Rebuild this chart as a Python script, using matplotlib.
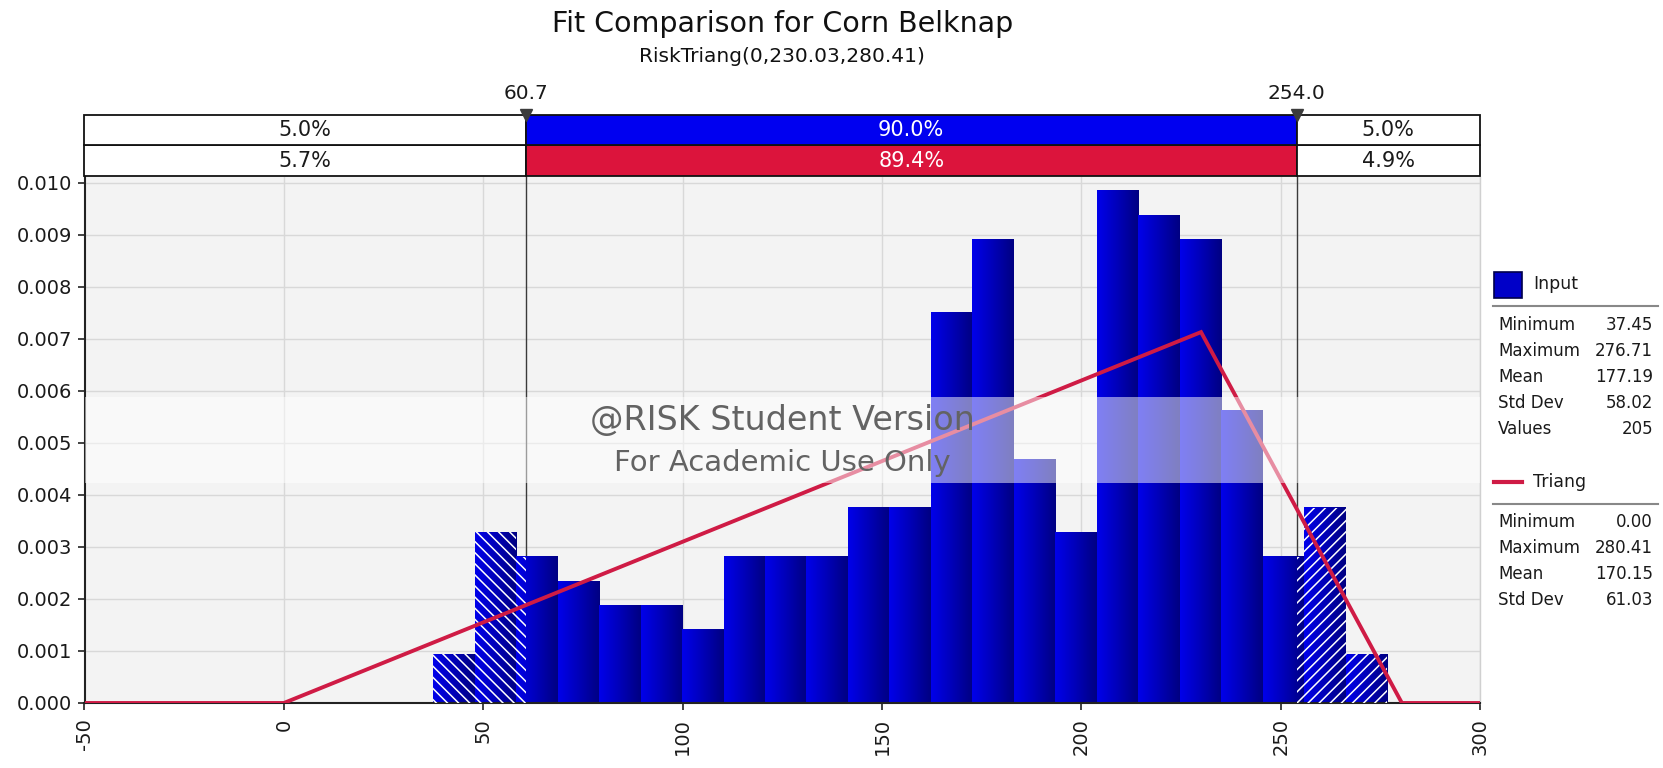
import numpy as np
import matplotlib
matplotlib.use("Agg")
import matplotlib.pyplot as plt
from matplotlib.colors import LinearSegmentedColormap
from matplotlib.patches import Rectangle
from matplotlib.lines import Line2D

# ---------------- data ----------------
title = "Fit Comparison for Corn Belknap"
subtitle = "RiskTriang(0,230.03,280.41)"

bin_start = 37.45
bin_end = 276.71
n_bins = 23
densities = [0.00094, 0.00328, 0.00281, 0.00234, 0.00188, 0.00188, 0.00141,
             0.00281, 0.00281, 0.00281, 0.00375, 0.00375, 0.00750, 0.00891,
             0.00469, 0.00328, 0.00985, 0.00938, 0.00891, 0.00563, 0.00281,
             0.00375, 0.00094]

tri_min, tri_mode, tri_max = 0.0, 230.03, 280.41

markers = [60.7, 254.0]
marker_labels = ["60.7", "254.0"]
input_pcts = ["5.0%", "90.0%", "5.0%"]
fit_pcts = ["5.7%", "89.4%", "4.9%"]

x_min, x_max = -50, 300
x_ticks = [-50, 0, 50, 100, 150, 200, 250, 300]
y_ticks = [0.000, 0.001, 0.002, 0.003, 0.004, 0.005, 0.006, 0.007, 0.008, 0.009, 0.010]

input_stat_names = ["Minimum", "Maximum", "Mean", "Std Dev", "Values"]
input_stat_values = ["37.45", "276.71", "177.19", "58.02", "205"]
fit_stat_names = ["Minimum", "Maximum", "Mean", "Std Dev"]
fit_stat_values = ["0.00", "280.41", "170.15", "61.03"]

watermark1 = "@RISK Student Version"
watermark2 = "For Academic Use Only"

# ---------------- style ----------------
W, H = 1663, 768
plt.rcParams['font.family'] = ['DejaVu Sans']
plt.rcParams['hatch.color'] = 'white'
plt.rcParams['hatch.linewidth'] = 1.1

BLUE = '#0000f0'
RED = '#dc143c'
LINE_RED = '#cf1b45'
TXT = '#1a1a1a'

def fx(px):
    return px / W

def fy(py):
    return 1 - py / H

fig = plt.figure(figsize=(W / 100, H / 100), dpi=100)

ax_left, ax_right = 84.5, 1480.0
ax_top, ax_bot = 177.0, 703.0
ax = fig.add_axes([fx(ax_left), fy(ax_bot), fx(ax_right - ax_left), (ax_bot - ax_top) / H])
ax.set_facecolor('#f3f3f3')

edges = np.linspace(bin_start, bin_end, n_bins + 1)
widths = np.diff(edges)
dens = np.array(densities)

# gradient bars
cmap = LinearSegmentedColormap.from_list('bars', ['#0000ea', '#0000b8', '#000082'])
grad = np.linspace(0, 1, 64).reshape(1, -1)
bars = ax.bar(edges[:-1], dens, width=widths, align='edge', color='none',
              edgecolor='none', zorder=2)
for p in bars:
    x0, w, h = p.get_x(), p.get_width(), p.get_height()
    ax.imshow(grad, cmap=cmap, extent=(x0, x0 + w, 0, h), aspect='auto',
              interpolation='bilinear', zorder=2)

# hatched tails
lw_ = np.minimum(edges[1:], markers[0]) - edges[:-1]
m = lw_ > 0
ax.bar(edges[:-1][m], dens[m], width=lw_[m], align='edge', facecolor='none',
       edgecolor='white', hatch='\\\\\\', linewidth=0, zorder=3)
rs = np.maximum(edges[:-1], markers[1])
rw = edges[1:] - rs
m = rw > 0
ax.bar(rs[m], dens[m], width=rw[m], align='edge', facecolor='none',
       edgecolor='white', hatch='///', linewidth=0, zorder=3)

# marker lines
for mk in markers:
    ax.axvline(mk, color='#3a3a3a', lw=1.0, zorder=1.8)

# triangular pdf
peak = 2.0 / (tri_max - tri_min)
tri_x = [x_min, tri_min, tri_mode, tri_max, x_max]
tri_y = [0, 0, peak, 0, 0]
ax.plot(tri_x, tri_y, color=LINE_RED, lw=2.8, zorder=4, solid_joinstyle='miter')

# watermark band
ax.axhspan(0.00423, 0.00588, color='white', alpha=0.5, lw=0, zorder=5)
xc = (x_min + x_max) / 2
ax.text(xc, 0.00544, watermark1, ha='center', va='center', fontsize=24,
        color='#636363', zorder=6)
ax.text(xc, 0.00462, watermark2, ha='center', va='center', fontsize=21,
        color='#636363', zorder=6)

ax.set_xlim(x_min, x_max)
ax.set_ylim(0, 0.010115)
ax.set_xticks(x_ticks)
ax.set_xticklabels([str(t) for t in x_ticks], rotation=90, fontsize=14, color=TXT)
ax.set_yticks(y_ticks)
ax.set_yticklabels(["%.3f" % t for t in y_ticks], fontsize=14, color=TXT)
ax.tick_params(axis='both', length=5, width=1.2, color='#222222')
ax.tick_params(axis='x', pad=6)
ax.tick_params(axis='y', pad=4)
ax.grid(True, color='#d8d8d8', lw=1.0, zorder=0)
ax.set_axisbelow(True)
for s in ['left', 'bottom']:
    ax.spines[s].set_color('#222222')
    ax.spines[s].set_linewidth(1.5)
ax.spines['right'].set_color('#d0d0d0')
ax.spines['right'].set_linewidth(1.0)
ax.spines['top'].set_visible(False)

# ---------------- percentage boxes ----------------
bx_top, bx_bot = 114.5, 176.0
axb = fig.add_axes([fx(ax_left), fy(bx_bot), fx(ax_right - ax_left), (bx_bot - bx_top) / H])
axb.set_xlim(x_min, x_max)
axb.set_ylim(0, 2)
axb.axis('off')
seg_edges = [x_min] + markers + [x_max]
for row, (pcts, mid_color) in enumerate([(fit_pcts, RED), (input_pcts, BLUE)]):
    for i in range(3):
        left, right = seg_edges[i], seg_edges[i + 1]
        fc = mid_color if i == 1 else 'white'
        axb.barh(row + 0.5, right - left, left=left, height=1, color=fc,
                 edgecolor='#111111', linewidth=1.3, clip_on=False)
        axb.text((left + right) / 2, row + 0.5, pcts[i], ha='center', va='center',
                 fontsize=15, color='white' if i == 1 else TXT)
for mk, lab in zip(markers, marker_labels):
    axb.plot([mk], [2], marker='v', markersize=9, color='#3c3c3c', clip_on=False, zorder=5)
    axb.annotate(lab, xy=(mk, 2), xytext=(0, 15), textcoords='offset points',
                 ha='center', va='center', fontsize=14.5, color=TXT,
                 annotation_clip=False)

# ---------------- titles ----------------
xcen = fx((ax_left + ax_right) / 2)
fig.text(xcen, fy(24), title, ha='center', va='center', fontsize=20.5, color='#111111')
fig.text(xcen, fy(56), subtitle, ha='center', va='center', fontsize=14.5, color='#111111')

# ---------------- legend panel ----------------
lab_x, val_x = 1498, 1653
sep_x0, sep_x1 = 1493, 1658
fig.patches.append(Rectangle((fx(1494), fy(298)), fx(28), 26 / H, transform=fig.transFigure,
                             facecolor='#0000c8', edgecolor='#00004a', lw=1.2))
fig.text(fx(1533), fy(284), "Input", ha='left', va='center', fontsize=12.5, color=TXT)
fig.lines.append(Line2D([fx(sep_x0), fx(sep_x1)], [fy(306), fy(306)], transform=fig.transFigure,
                        color='#888888', lw=1.5))
for i, (n, v) in enumerate(zip(input_stat_names, input_stat_values)):
    y = 325 + 26 * i
    fig.text(fx(lab_x), fy(y), n, ha='left', va='center', fontsize=12, color=TXT)
    fig.text(fx(val_x), fy(y), v, ha='right', va='center', fontsize=12, color=TXT)

fig.lines.append(Line2D([fx(1494), fx(1522)], [fy(482), fy(482)], transform=fig.transFigure,
                        color=LINE_RED, lw=3))
fig.text(fx(1533), fy(482), "Triang", ha='left', va='center', fontsize=12.5, color=TXT)
fig.lines.append(Line2D([fx(sep_x0), fx(sep_x1)], [fy(504), fy(504)], transform=fig.transFigure,
                        color='#888888', lw=1.5))
for i, (n, v) in enumerate(zip(fit_stat_names, fit_stat_values)):
    y = 522 + 26 * i
    fig.text(fx(lab_x), fy(y), n, ha='left', va='center', fontsize=12, color=TXT)
    fig.text(fx(val_x), fy(y), v, ha='right', va='center', fontsize=12, color=TXT)

fig.savefig("out.png", dpi=100, facecolor='white')
